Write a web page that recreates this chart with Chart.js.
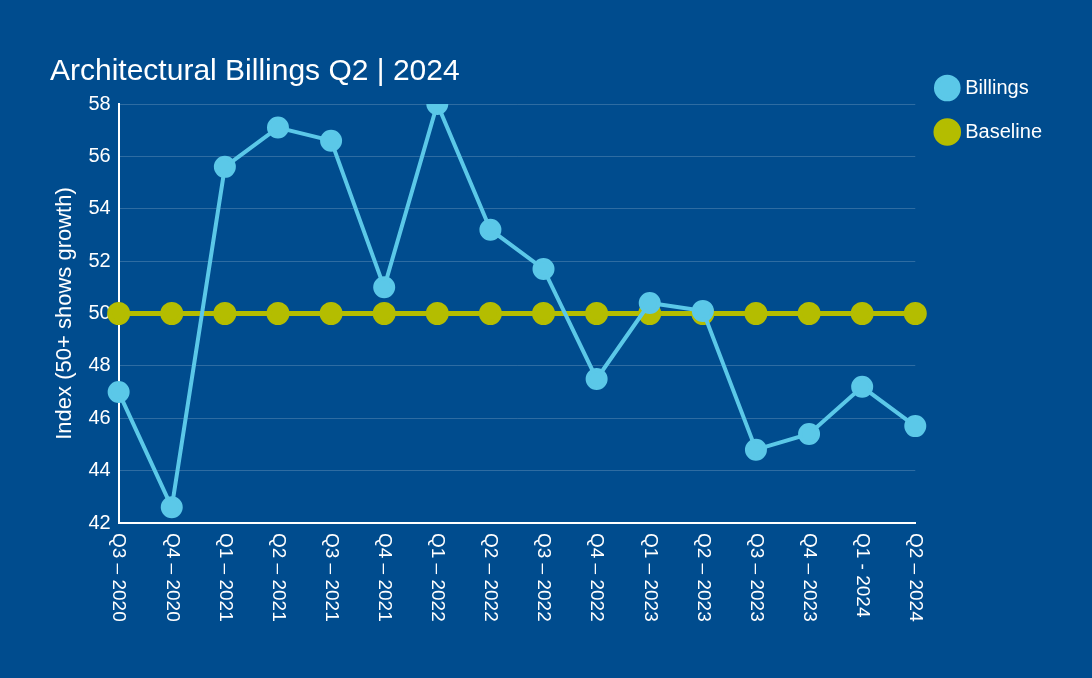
<!DOCTYPE html>
<html>
<head>
<meta charset="utf-8">
<script src="https://cdn.jsdelivr.net/npm/chart.js@4"></script>
<style>
  html, body { margin: 0; padding: 0; background: #004c8e; }
  #wrap { width: 1092px; height: 678px; }
</style>
</head>
<body>
<div id="wrap"><canvas id="myChart"></canvas></div>
<script>
// Data
var quarters = ["Q3 – 2020", "Q4 – 2020", "Q1 – 2021", "Q2 – 2021", "Q3 – 2021", "Q4 – 2021",
  "Q1 – 2022", "Q2 – 2022", "Q3 – 2022", "Q4 – 2022", "Q1 – 2023", "Q2 – 2023",
  "Q3 – 2023", "Q4 – 2023", "Q1 - 2024", "Q2 – 2024"];
var billings = [47.0, 42.6, 55.6, 57.1, 56.6, 51.0, 58.0, 53.2, 51.7, 47.5, 50.4, 50.1, 44.8, 45.4, 47.2, 45.7];
var baseline = [50, 50, 50, 50, 50, 50, 50, 50, 50, 50, 50, 50, 50, 50, 50, 50];

var fontFam = '"Liberation Sans", Arial, sans-serif';

// x labels read top-to-bottom, so draw them ourselves
var downLabels = {
  id: 'downLabels',
  afterDraw: function(chart) {
    var c = chart.ctx, xs = chart.scales.x;
    c.save();
    c.fillStyle = '#ffffff';
    c.font = '19px ' + fontFam;
    c.textAlign = 'left';
    c.textBaseline = 'middle';
    xs.ticks.forEach(function(t, i) {
      var x = xs.getPixelForTick(i);
      c.save();
      c.translate(x, chart.chartArea.bottom + 10);
      c.rotate(Math.PI / 2);
      c.fillText(quarters[i], 0, 0);
      c.restore();
    });
    c.restore();
  }
};

var ctx = document.getElementById('myChart').getContext('2d');
var chart = new Chart(ctx, {
  type: 'line',
  data: {
    labels: quarters,
    datasets: [{
      label: 'Billings',
      data: billings,
      borderColor: '#5bc8e8',
      backgroundColor: '#5bc8e8',
      borderWidth: 4,
      pointRadius: 9,
      pointHoverRadius: 9,
      tension: 0
    }, {
      label: 'Baseline',
      data: baseline,
      borderColor: '#b4bd00',
      backgroundColor: '#b4bd00',
      borderWidth: 5,
      pointRadius: 9,
      pointHoverRadius: 9
    }]
  },
  options: {
    responsive: true,
    maintainAspectRatio: false,
    animation: false,
    layout: { padding: { top: 54, left: 50, right: 40, bottom: 10 } },
    plugins: {
      title: {
        display: true,
        text: 'Architectural Billings Q2 | 2024',
        align: 'start',
        color: '#ffffff',
        font: { family: fontFam, size: 30, weight: 'normal' },
        padding: { top: 0, bottom: 14 }
      },
      legend: {
        position: 'right',
        align: 'start',
        labels: {
          color: '#ffffff',
          font: { family: fontFam, size: 20 },
          usePointStyle: true,
          pointStyle: 'circle',
          boxWidth: 16,
          boxHeight: 16,
          padding: 24
        }
      },
      tooltip: { enabled: false }
    },
    scales: {
      x: {
        offset: false,
        grid: { display: false, drawTicks: false },
        border: { color: '#ffffff', width: 2 },
        ticks: { display: false },
        afterFit: function(s) { s.height = 145; }
      },
      y: {
        min: 42,
        max: 58,
        ticks: {
          stepSize: 2,
          color: '#ffffff',
          font: { family: fontFam, size: 20 },
          padding: 8
        },
        grid: { color: 'rgba(255,255,255,0.18)', drawTicks: false },
        border: { color: '#ffffff', width: 2 },
        title: {
          display: true,
          text: 'Index (50+ shows growth)',
          color: '#ffffff',
          font: { family: fontFam, size: 22 },
          padding: 2
        }
      }
    }
  },
  plugins: [downLabels]
});
</script>
</body>
</html>
